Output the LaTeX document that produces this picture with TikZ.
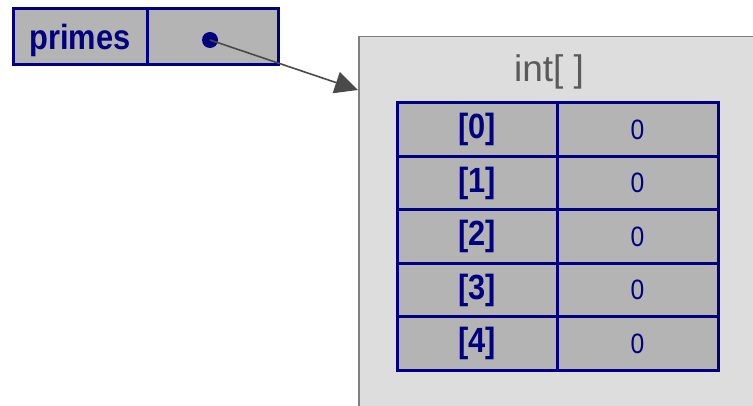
\documentclass[tikz,border=0pt]{standalone}
\usepackage{graphicx}
\usepackage{fontspec}
\setmainfont{Liberation Sans}
\usetikzlibrary{arrows.meta}
\definecolor{navy}{HTML}{000080}
\definecolor{cellgray}{HTML}{B4B4B4}
\definecolor{panelgray}{HTML}{DDDDDD}
\definecolor{edgegray}{HTML}{7F7F7F}
\definecolor{arrowgray}{HTML}{4A4A4A}
\definecolor{titlegray}{HTML}{5A5A5A}
\newcommand{\narrowtext}[1]{\scalebox{0.88}[1]{#1}}
\tikzset{
  cell/.style={draw=navy, fill=cellgray, line width=3pt, inner sep=0pt, outer sep=0pt},
  idx/.style={cell, minimum width=160pt, minimum height=53.5pt, font=\fontsize{35}{35}\selectfont\bfseries, text=navy},
  val/.style={cell, minimum width=161pt, minimum height=53.5pt, font=\fontsize{28}{28}\selectfont, text=navy},
  ref/.style={-{Triangle[length=23pt,width=22pt]}, draw=arrowgray, fill=arrowgray, line width=1.6pt},
}
\begin{document}
\begin{tikzpicture}[x=1pt,y=-1pt]
\useasboundingbox (0,0) rectangle (753,406);
\clip (0,0) rectangle (753,406);
\fill[white] (0,0) rectangle (753,406);
% array object panel
\node[draw=edgegray, fill=panelgray, line width=1.5pt, anchor=north west, minimum width=420pt, minimum height=400pt, inner sep=0pt] (panel) at (358,36) {};
\node[text=titlegray, font=\fontsize{37}{37}\selectfont] (title) at (549,72) {int[ ]};
% array cells
\foreach \i in {0,...,4} {
  \node[idx, anchor=north west] (i\i) at (397,{103+53.5*\i}) {\narrowtext{[\i]}};
  \node[val, anchor=north west] (v\i) at (557,{103+53.5*\i}) {\narrowtext{0}};
}
% variable box
\node[cell, anchor=north west, minimum width=134pt, minimum height=56pt, font=\fontsize{35}{35}\selectfont\bfseries, text=navy, text height=30pt, text depth=4pt] (name) at (13,9) {\narrowtext{primes}};
\node[cell, anchor=north west, minimum width=131pt, minimum height=56pt] (slot) at (147,9) {};
\node[circle, fill=navy, minimum size=16pt, inner sep=0pt] (dot) at (210,40) {};
\coordinate (tip) at (358,90);
\draw[ref] (dot.center) -- (tip);
\end{tikzpicture}
\end{document}
